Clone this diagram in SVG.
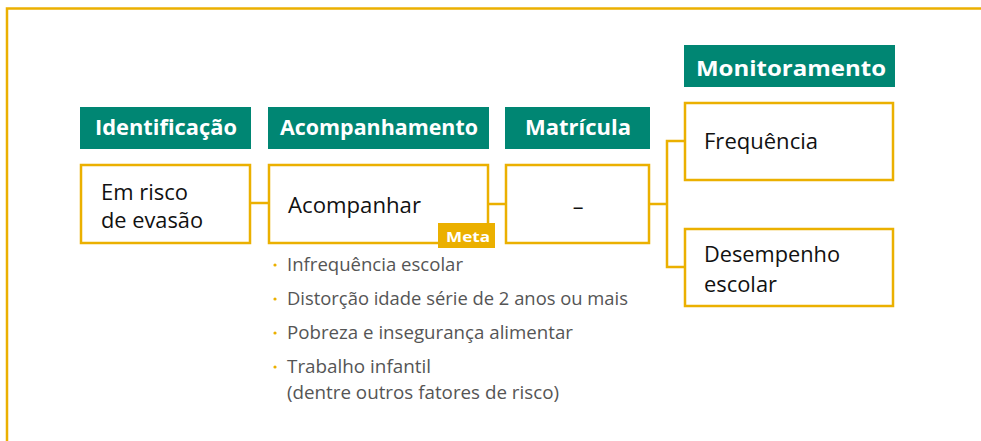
<svg xmlns="http://www.w3.org/2000/svg" width="981" height="441" viewBox="0 0 981 441">
<style>
.hdr{fill:#008673}
.hdrt{fill:#fff;font-family:"Open Sans",Lato,sans-serif;font-weight:bold;font-size:21px}
.box{fill:#fff;stroke:#EBB000;stroke-width:2.5}
.bt{fill:#111;font-family:"Open Sans",Lato,sans-serif;font-size:21.5px}
.li{fill:#555;font-family:"Open Sans",Lato,sans-serif;font-size:18.5px}
.dot{fill:#EBB000}
.con{fill:none;stroke:#EBB000;stroke-width:2.5}
</style>
<rect width="981" height="441" fill="#fff"/>
<path d="M7 441 V8.5 H981" fill="none" stroke="#EBB000" stroke-width="2.5"/>
<g id="connectors">
<line class="con" x1="251" y1="203" x2="268" y2="203"/>
<line class="con" x1="488" y1="204" x2="505" y2="204"/>
<path class="con" d="M650 204 H667 M684 141 H667 V267 H684"/>
</g>
<g id="identificacao">
<rect class="hdr" x="80" y="107" width="171" height="42"/>
<text class="hdrt" x="95" y="135" textLength="142" lengthAdjust="spacingAndGlyphs">Identificação</text>
<rect class="box" x="81" y="165" width="169" height="78"/>
<text class="bt" x="101" y="200" textLength="87" lengthAdjust="spacingAndGlyphs">Em risco</text>
<text class="bt" x="101" y="228" textLength="102" lengthAdjust="spacingAndGlyphs">de evasão</text>
</g>
<g id="acompanhamento">
<rect class="hdr" x="268" y="107" width="221" height="42"/>
<text class="hdrt" x="280" y="135" textLength="198" lengthAdjust="spacingAndGlyphs">Acompanhamento</text>
<rect class="box" x="269" y="165" width="219" height="78"/>
<text class="bt" x="288" y="213" textLength="133" lengthAdjust="spacingAndGlyphs">Acompanhar</text>
<rect x="438" y="223" width="57" height="25" fill="#EBB000"/>
<text x="446" y="242" textLength="44" lengthAdjust="spacingAndGlyphs" fill="#fff" font-family="'Open Sans',Lato,sans-serif" font-weight="bold" font-size="15">Meta</text>
<g class="li">
<circle class="dot" cx="275" cy="265" r="1.6"/>
<text x="287" y="271" textLength="176" lengthAdjust="spacingAndGlyphs">Infrequência escolar</text>
<circle class="dot" cx="275" cy="299" r="1.6"/>
<text x="287" y="305" textLength="341" lengthAdjust="spacingAndGlyphs">Distorção idade série de 2 anos ou mais</text>
<circle class="dot" cx="275" cy="333" r="1.6"/>
<text x="287" y="339" textLength="286" lengthAdjust="spacingAndGlyphs">Pobreza e insegurança alimentar</text>
<circle class="dot" cx="275" cy="367" r="1.6"/>
<text x="287" y="373" textLength="144" lengthAdjust="spacingAndGlyphs">Trabalho infantil</text>
<text x="287" y="399" textLength="272" lengthAdjust="spacingAndGlyphs">(dentre outros fatores de risco)</text>
</g>
</g>
<g id="matricula">
<rect class="hdr" x="505" y="107" width="145" height="42"/>
<text class="hdrt" x="525" y="135" textLength="106" lengthAdjust="spacingAndGlyphs">Matrícula</text>
<rect class="box" x="506" y="165" width="143" height="78"/>
<text class="bt" x="578" y="214" text-anchor="middle">–</text>
</g>
<g id="monitoramento">
<rect class="hdr" x="684" y="45" width="211" height="42"/>
<text class="hdrt" x="696" y="76" textLength="190" lengthAdjust="spacingAndGlyphs" font-size="23">Monitoramento</text>
</g>
<g id="frequencia">
<rect class="box" x="685" y="103" width="208" height="77"/>
<text class="bt" x="704" y="149" textLength="114" lengthAdjust="spacingAndGlyphs">Frequência</text>
</g>
<g id="desempenho">
<rect class="box" x="685" y="229" width="208" height="77"/>
<text class="bt" x="704" y="262" textLength="136" lengthAdjust="spacingAndGlyphs">Desempenho</text>
<text class="bt" x="704" y="292" textLength="73" lengthAdjust="spacingAndGlyphs">escolar</text>
</g>
</svg>
